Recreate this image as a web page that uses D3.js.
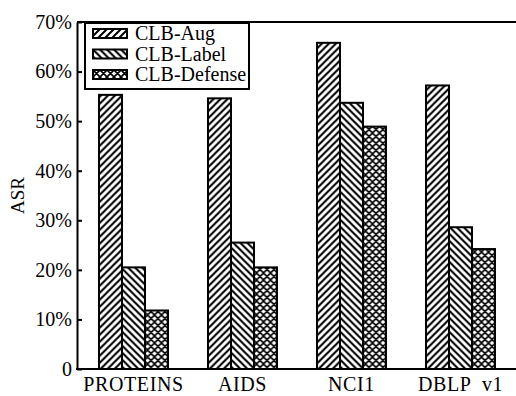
<!DOCTYPE html>
<html>
<head>
<meta charset="utf-8">
<script src="https://cdn.jsdelivr.net/npm/d3@7"></script>
<style>
	body { margin: 0; background: #fff; }
	text { font-family: "Liberation Serif", "Times New Roman", serif; fill: #000; }
	.axis path, .axis line { stroke: #000; stroke-width: 2; }
</style>
</head>
<body>
<div id="chart"></div>
<script>
const datasets = ['PROTEINS', 'AIDS', 'NCI1', 'DBLP  v1'];
const series = ['CLB-Aug', 'CLB-Label', 'CLB-Defense'];
const clbAug = [55.3, 54.6, 65.8, 57.2];
const clbLabel = [20.5, 25.5, 53.7, 28.6];
const clbDefense = [11.8, 20.5, 48.9, 24.2];
const yTicks = [0, 10, 20, 30, 40, 50, 60, 70];

const values = [clbAug, clbLabel, clbDefense];
const patternIds = ['pat-aug', 'pat-label', 'pat-def'];

const width = 516;
const height = 396;
const margin = { top: 22, right: 0, bottom: 27, left: 77 };

const svg = d3.select('#chart').append('svg')
	.attr('width', width)
	.attr('height', height);

// hatch patterns
const defs = svg.append('defs');
const s = 7;
const fwd = `M-1,1 l2,-2 M0,${s} l${s},-${s} M${s - 1},${s + 1} l2,-2`;
const back = `M-1,${s - 1} l2,2 M0,0 l${s},${s} M${s - 1},-1 l2,2`;
const patPaths = [fwd, back, `${fwd} ${back}`];
const patWidths = [2, 2, 1.6];
patternIds.forEach((id, i) => {
	const p = defs.append('pattern')
		.attr('id', id)
		.attr('patternUnits', 'userSpaceOnUse')
		.attr('width', s)
		.attr('height', s);
	p.append('rect').attr('width', s).attr('height', s).attr('fill', '#fff');
	p.append('path')
		.attr('d', patPaths[i])
		.attr('stroke', '#000')
		.attr('stroke-width', patWidths[i]);
});

const y = d3.scaleLinear()
	.domain([0, 70])
	.range([height - margin.bottom, margin.top]);
const x0 = d3.scaleBand()
	.domain(datasets)
	.range([79, 515])
	.padding(0);
const x1 = d3.scaleBand()
	.domain(series)
	.range([-34.5, 34.5]);

// bars
const groups = svg.selectAll('.group')
	.data(datasets)
	.enter().append('g')
		.attr('class', 'group')
		.attr('transform', d => `translate(${x0(d) + x0.bandwidth() / 2}, 0)`);
groups.selectAll('rect')
	.data((d, i) => series.map((name, j) => ({ name, j, v: values[j][i] })))
	.enter().append('rect')
		.attr('x', d => x1(d.name))
		.attr('width', x1.bandwidth())
		.attr('y', d => y(d.v))
		.attr('height', d => y(0) - y(d.v))
		.attr('fill', d => `url(#${patternIds[d.j]})`)
		.attr('stroke', '#000')
		.attr('stroke-width', 2);

// axes
const yAxis = d3.axisLeft(y)
	.tickValues(yTicks)
	.tickFormat(d => (d === 0 ? '0' : `${d}%`))
	.tickSizeInner(-5)
	.tickSizeOuter(0)
	.tickPadding(5);
svg.append('g')
	.attr('class', 'y axis')
	.attr('transform', `translate(${margin.left}, 0)`)
	.call(yAxis)
	.selectAll('text')
		.style('font-size', '20px')
		.style('font-family', '"Liberation Serif", serif');

const xAxis = d3.axisBottom(x0)
	.tickSize(0)
	.tickPadding(8);
svg.append('g')
	.attr('class', 'x axis')
	.attr('transform', `translate(0, ${y(0)})`)
	.call(xAxis)
	.call(g => g.select('.domain').attr('d', `M${margin.left - 1},0H${width}`))
	.selectAll('text')
		.style('font-size', '20px')
		.style('letter-spacing', '0.6px')
		.style('font-family', '"Liberation Serif", serif')
		.style('white-space', 'pre');

// top frame line
svg.append('line')
	.attr('x1', margin.left)
	.attr('x2', width)
	.attr('y1', y(70))
	.attr('y2', y(70))
	.attr('stroke', '#000')
	.attr('stroke-width', 2);

// y label
svg.append('text')
	.attr('transform', `translate(24, ${y(35)}) rotate(-90)`)
	.attr('text-anchor', 'middle')
	.style('font-size', '19px')
	.text('ASR');

// legend
const legend = svg.append('g').attr('transform', 'translate(85, 23)');
legend.append('rect')
	.attr('width', 164)
	.attr('height', 66)
	.attr('fill', '#fff')
	.attr('stroke', '#000')
	.attr('stroke-width', 2);
const rows = legend.selectAll('.row')
	.data(series)
	.enter().append('g')
		.attr('class', 'row')
		.attr('transform', (d, i) => `translate(8, ${6 + i * 20.5})`);
rows.append('rect')
	.attr('width', 34)
	.attr('height', 9)
	.attr('fill', (d, i) => `url(#${patternIds[i]})`)
	.attr('stroke', '#000')
	.attr('stroke-width', 2);
rows.append('text')
	.attr('x', 42)
	.attr('y', 11)
	.style('font-size', '20px')
	.text(d => d);
</script>
</body>
</html>
